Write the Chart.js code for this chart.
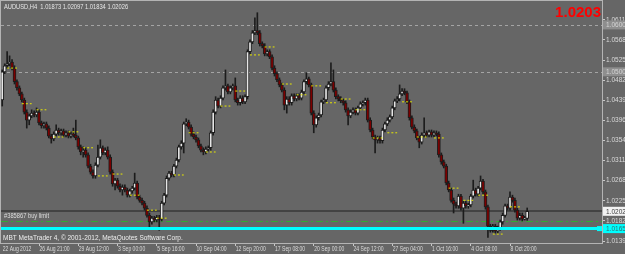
<!DOCTYPE html>
<html>
<head>
<meta charset="utf-8">
<script src="https://cdn.jsdelivr.net/npm/chart.js@4.4.0/dist/chart.umd.min.js"></script>
<style>
  html, body { margin: 0; padding: 0; background: #666666; }
  #chart { display: block; }
</style>
</head>
<body>
<canvas id="chart" width="625" height="254"></canvas>
<script>
const symbolTitle = 'AUDUSD,H4  1.01873 1.02097 1.01834 1.02026';
const bigPrice = '1.0203';
const copyright = 'MBT MetaTrader 4, \u00A9 2001-2012, MetaQuotes Software Corp.';
const orderLabel = '#385867 buy limit';

// H4 bar slots on the time axis (last ~30 are the empty chart shift)
const slotCount = 245;
const timeTickIdx = [0, 15, 31, 47, 63, 79, 95, 111, 127, 143, 159, 175, 191, 207];
const timeTickText = ['22 Aug 2012', '26 Aug 21:00', '29 Aug 12:00', '3 Sep 00:00', '5 Sep 16:00',
  '10 Sep 04:00', '12 Sep 20:00', '17 Sep 08:00', '20 Sep 00:00', '24 Sep 12:00',
  '27 Sep 04:00', '1 Oct 16:00', '4 Oct 08:00', '8 Oct 20:00'];
const priceTicks = [1.06110, 1.05680, 1.05250, 1.04820, 1.04390, 1.03960, 1.03540,
  1.03110, 1.02680, 1.02250, 1.01820, 1.01390];

const opens = [
  1.0440, 1.0500, 1.0513, 1.0517, 1.0521, 1.0508, 1.0479, 1.0466, 1.0453, 1.0440,
  1.0414, 1.0397, 1.0406, 1.0412, 1.0408, 1.0414, 1.0391, 1.0385, 1.0389, 1.0380,
  1.0363, 1.0357, 1.0367, 1.0376, 1.0370, 1.0374, 1.0365, 1.0370, 1.0363, 1.0367,
  1.0365, 1.0359, 1.0340, 1.0329, 1.0333, 1.0323, 1.0299, 1.0286, 1.0278, 1.0301,
  1.0318, 1.0338, 1.0327, 1.0333, 1.0318, 1.0286, 1.0261, 1.0269, 1.0256, 1.0248,
  1.0254, 1.0248, 1.0237, 1.0246, 1.0252, 1.0263, 1.0233, 1.0226, 1.0220, 1.0209,
  1.0194, 1.0180, 1.0188, 1.0184, 1.0190, 1.0186, 1.0220, 1.0237, 1.0273, 1.0284,
  1.0280, 1.0299, 1.0312, 1.0340, 1.0348, 1.0389, 1.0393, 1.0382, 1.0367, 1.0361,
  1.0355, 1.0342, 1.0333, 1.0329, 1.0335, 1.0338, 1.0370, 1.0414, 1.0440, 1.0427,
  1.0444, 1.0466, 1.0470, 1.0457, 1.0466, 1.0470, 1.0440, 1.0434, 1.0444, 1.0436,
  1.0447, 1.0543, 1.0564, 1.0583, 1.0588, 1.0583, 1.0560, 1.0555, 1.0538, 1.0543,
  1.0532, 1.0508, 1.0496, 1.0483, 1.0472, 1.0461, 1.0429, 1.0442, 1.0434, 1.0449,
  1.0442, 1.0449, 1.0444, 1.0457, 1.0479, 1.0485, 1.0472, 1.0412, 1.0387, 1.0402,
  1.0408, 1.0436, 1.0440, 1.0466, 1.0474, 1.0479, 1.0461, 1.0447, 1.0442, 1.0438,
  1.0434, 1.0419, 1.0406, 1.0414, 1.0419, 1.0412, 1.0423, 1.0432, 1.0434, 1.0440,
  1.0397, 1.0376, 1.0361, 1.0355, 1.0359, 1.0353, 1.0376, 1.0389, 1.0397, 1.0404,
  1.0423, 1.0438, 1.0442, 1.0453, 1.0459, 1.0455, 1.0436, 1.0402, 1.0382, 1.0374,
  1.0359, 1.0350, 1.0365, 1.0370, 1.0365, 1.0372, 1.0365, 1.0370, 1.0367, 1.0323,
  1.0308, 1.0299, 1.0263, 1.0248, 1.0226, 1.0218, 1.0214, 1.0235, 1.0209, 1.0220,
  1.0214, 1.0216, 1.0235, 1.0248, 1.0239, 1.0252, 1.0267, 1.0244, 1.0212, 1.0171,
  1.0162, 1.0171, 1.0160, 1.0167, 1.0180, 1.0194, 1.0214, 1.0209, 1.0233, 1.0226,
  1.0205, 1.0188, 1.0194, 1.0186, 1.01873
];
const highs = [
  1.0504, 1.0517, 1.0543, 1.0534, 1.0526, 1.0513, 1.0483, 1.0470, 1.0457, 1.0444,
  1.0419, 1.0410, 1.0419, 1.0417, 1.0423, 1.0419, 1.0395, 1.0393, 1.0393, 1.0385,
  1.0367, 1.0372, 1.0387, 1.0380, 1.0378, 1.0378, 1.0374, 1.0374, 1.0372, 1.0380,
  1.0397, 1.0363, 1.0344, 1.0340, 1.0338, 1.0327, 1.0303, 1.0291, 1.0306, 1.0344,
  1.0355, 1.0342, 1.0338, 1.0340, 1.0323, 1.0291, 1.0273, 1.0273, 1.0261, 1.0259,
  1.0259, 1.0252, 1.0250, 1.0256, 1.0284, 1.0267, 1.0237, 1.0231, 1.0224, 1.0214,
  1.0199, 1.0192, 1.0192, 1.0194, 1.0194, 1.0224, 1.0241, 1.0278, 1.0288, 1.0288,
  1.0303, 1.0316, 1.0344, 1.0353, 1.0393, 1.0400, 1.0397, 1.0387, 1.0372, 1.0365,
  1.0359, 1.0346, 1.0338, 1.0340, 1.0342, 1.0374, 1.0419, 1.0447, 1.0444, 1.0449,
  1.0470, 1.0504, 1.0474, 1.0470, 1.0474, 1.0487, 1.0444, 1.0449, 1.0449, 1.0451,
  1.0547, 1.0568, 1.0588, 1.0615, 1.0626, 1.0588, 1.0564, 1.0560, 1.0547, 1.0547,
  1.0536, 1.0513, 1.0500, 1.0487, 1.0476, 1.0466, 1.0447, 1.0447, 1.0453, 1.0453,
  1.0453, 1.0453, 1.0461, 1.0483, 1.0498, 1.0489, 1.0476, 1.0417, 1.0406, 1.0412,
  1.0440, 1.0444, 1.0470, 1.0479, 1.0519, 1.0504, 1.0466, 1.0451, 1.0447, 1.0442,
  1.0438, 1.0423, 1.0419, 1.0423, 1.0423, 1.0427, 1.0436, 1.0438, 1.0444, 1.0444,
  1.0402, 1.0380, 1.0365, 1.0363, 1.0363, 1.0380, 1.0393, 1.0402, 1.0408, 1.0427,
  1.0442, 1.0447, 1.0472, 1.0464, 1.0464, 1.0459, 1.0440, 1.0406, 1.0387, 1.0378,
  1.0363, 1.0370, 1.0402, 1.0374, 1.0376, 1.0376, 1.0374, 1.0374, 1.0372, 1.0327,
  1.0312, 1.0303, 1.0267, 1.0252, 1.0231, 1.0222, 1.0239, 1.0239, 1.0224, 1.0224,
  1.0220, 1.0239, 1.0269, 1.0252, 1.0256, 1.0278, 1.0271, 1.0248, 1.0216, 1.0175,
  1.0175, 1.0175, 1.0171, 1.0184, 1.0199, 1.0218, 1.0218, 1.0244, 1.0237, 1.0231,
  1.0209, 1.0199, 1.0199, 1.0192, 1.02097
];
const lows = [
  1.0427, 1.0496, 1.0508, 1.0513, 1.0504, 1.0474, 1.0461, 1.0449, 1.0436, 1.0410,
  1.0380, 1.0387, 1.0402, 1.0404, 1.0404, 1.0387, 1.0380, 1.0380, 1.0376, 1.0359,
  1.0348, 1.0353, 1.0363, 1.0365, 1.0365, 1.0361, 1.0361, 1.0359, 1.0359, 1.0361,
  1.0355, 1.0335, 1.0323, 1.0318, 1.0318, 1.0295, 1.0282, 1.0273, 1.0273, 1.0297,
  1.0314, 1.0323, 1.0323, 1.0314, 1.0282, 1.0256, 1.0248, 1.0252, 1.0244, 1.0237,
  1.0244, 1.0233, 1.0233, 1.0241, 1.0248, 1.0229, 1.0222, 1.0216, 1.0205, 1.0190,
  1.0169, 1.0175, 1.0180, 1.0180, 1.0162, 1.0182, 1.0216, 1.0233, 1.0269, 1.0276,
  1.0276, 1.0295, 1.0308, 1.0335, 1.0327, 1.0385, 1.0378, 1.0363, 1.0357, 1.0350,
  1.0338, 1.0329, 1.0323, 1.0325, 1.0331, 1.0333, 1.0365, 1.0410, 1.0423, 1.0423,
  1.0440, 1.0461, 1.0453, 1.0453, 1.0461, 1.0436, 1.0429, 1.0429, 1.0432, 1.0432,
  1.0442, 1.0538, 1.0560, 1.0579, 1.0579, 1.0555, 1.0551, 1.0534, 1.0534, 1.0528,
  1.0504, 1.0491, 1.0479, 1.0468, 1.0457, 1.0419, 1.0412, 1.0429, 1.0429, 1.0438,
  1.0438, 1.0440, 1.0440, 1.0453, 1.0474, 1.0468, 1.0408, 1.0370, 1.0382, 1.0397,
  1.0404, 1.0432, 1.0436, 1.0461, 1.0470, 1.0457, 1.0442, 1.0438, 1.0434, 1.0429,
  1.0414, 1.0387, 1.0402, 1.0410, 1.0408, 1.0408, 1.0419, 1.0427, 1.0429, 1.0393,
  1.0372, 1.0357, 1.0327, 1.0348, 1.0348, 1.0348, 1.0372, 1.0385, 1.0393, 1.0400,
  1.0419, 1.0434, 1.0438, 1.0449, 1.0451, 1.0432, 1.0397, 1.0378, 1.0370, 1.0355,
  1.0338, 1.0346, 1.0361, 1.0361, 1.0361, 1.0361, 1.0361, 1.0363, 1.0318, 1.0303,
  1.0295, 1.0259, 1.0244, 1.0222, 1.0199, 1.0209, 1.0209, 1.0205, 1.0177, 1.0209,
  1.0209, 1.0212, 1.0231, 1.0235, 1.0235, 1.0248, 1.0239, 1.0207, 1.0147, 1.0158,
  1.0158, 1.0156, 1.0156, 1.0162, 1.0175, 1.0190, 1.0205, 1.0205, 1.0222, 1.0201,
  1.0184, 1.0184, 1.0182, 1.0184, 1.01834
];
const closes = [
  1.0500, 1.0513, 1.0517, 1.0521, 1.0508, 1.0479, 1.0466, 1.0453, 1.0440, 1.0414,
  1.0397, 1.0406, 1.0412, 1.0408, 1.0414, 1.0391, 1.0385, 1.0389, 1.0380, 1.0363,
  1.0357, 1.0367, 1.0376, 1.0370, 1.0374, 1.0365, 1.0370, 1.0363, 1.0367, 1.0365,
  1.0359, 1.0340, 1.0329, 1.0333, 1.0323, 1.0299, 1.0286, 1.0278, 1.0301, 1.0318,
  1.0338, 1.0327, 1.0333, 1.0318, 1.0286, 1.0261, 1.0269, 1.0256, 1.0248, 1.0254,
  1.0248, 1.0237, 1.0246, 1.0252, 1.0263, 1.0233, 1.0226, 1.0220, 1.0209, 1.0194,
  1.0180, 1.0188, 1.0184, 1.0190, 1.0186, 1.0220, 1.0237, 1.0273, 1.0284, 1.0280,
  1.0299, 1.0312, 1.0340, 1.0348, 1.0389, 1.0393, 1.0382, 1.0367, 1.0361, 1.0355,
  1.0342, 1.0333, 1.0329, 1.0335, 1.0338, 1.0370, 1.0414, 1.0440, 1.0427, 1.0444,
  1.0466, 1.0470, 1.0457, 1.0466, 1.0470, 1.0440, 1.0434, 1.0444, 1.0436, 1.0447,
  1.0543, 1.0564, 1.0583, 1.0588, 1.0583, 1.0560, 1.0555, 1.0538, 1.0543, 1.0532,
  1.0508, 1.0496, 1.0483, 1.0472, 1.0461, 1.0429, 1.0442, 1.0434, 1.0449, 1.0442,
  1.0449, 1.0444, 1.0457, 1.0479, 1.0485, 1.0472, 1.0412, 1.0387, 1.0402, 1.0408,
  1.0436, 1.0440, 1.0466, 1.0474, 1.0479, 1.0461, 1.0447, 1.0442, 1.0438, 1.0434,
  1.0419, 1.0406, 1.0414, 1.0419, 1.0412, 1.0423, 1.0432, 1.0434, 1.0440, 1.0397,
  1.0376, 1.0361, 1.0355, 1.0359, 1.0353, 1.0376, 1.0389, 1.0397, 1.0404, 1.0423,
  1.0438, 1.0442, 1.0453, 1.0459, 1.0455, 1.0436, 1.0402, 1.0382, 1.0374, 1.0359,
  1.0350, 1.0365, 1.0370, 1.0365, 1.0372, 1.0365, 1.0370, 1.0367, 1.0323, 1.0308,
  1.0299, 1.0263, 1.0248, 1.0226, 1.0218, 1.0214, 1.0235, 1.0209, 1.0220, 1.0214,
  1.0216, 1.0235, 1.0248, 1.0239, 1.0252, 1.0267, 1.0244, 1.0212, 1.0171, 1.0162,
  1.0171, 1.0160, 1.0167, 1.0180, 1.0194, 1.0214, 1.0209, 1.0233, 1.0226, 1.0205,
  1.0188, 1.0194, 1.0186, 1.0188, 1.02026
];

// short yellow level marks (bar where each starts, price)
const dayOpenIdx = [2, 8, 14, 21, 27, 33, 39, 45, 52, 59, 63, 70, 76, 83, 89, 95, 101,
  107, 114, 120, 126, 132, 138, 144, 151, 157, 163, 169, 176, 182, 188, 194, 200, 207];
const dayOpenPrice = [1.0508, 1.0432, 1.0419, 1.0361, 1.0372, 1.0338, 1.0278, 1.0282,
  1.0237, 1.0205, 1.0188, 1.0280, 1.0370, 1.0329, 1.0427, 1.0459, 1.0536, 1.0553,
  1.0474, 1.0451, 1.0470, 1.0434, 1.0442, 1.0419, 1.0359, 1.0370, 1.0436, 1.0361,
  1.0359, 1.0252, 1.0226, 1.0237, 1.0154, 1.0212];
const dayOpenLen = 4;

const roundLevels = [1.06000, 1.05000];
const bidLevel = 1.02026;
const targetLevel = 1.01820;
const orderLevel = 1.01657;

const labels = Array.from({length: slotCount}, (_, i) => String(i));
const bodyColors = opens.map((o, i) => closes[i] >= o ? '#e6e6e6' : '#7c0000');

const dashPoints = [];
dayOpenIdx.forEach((start, k) => {
    dashPoints.push({x: String(start), y: dayOpenPrice[k]});
    dashPoints.push({x: String(start + dayOpenLen), y: dayOpenPrice[k]});
    dashPoints.push({x: String(start + dayOpenLen), y: null});
});

const FONT = '"Liberation Sans", Arial, sans-serif';

function hline(ctx, area, py) {
    ctx.beginPath();
    ctx.moveTo(area.left, py);
    ctx.lineTo(area.right, py);
    ctx.stroke();
}

// MT4 uses Tahoma; squeeze Liberation Sans sideways to get the same width
function narrowText(ctx, text, x, y, sx) {
    ctx.save();
    ctx.translate(x, y);
    ctx.scale(sx, 1);
    ctx.fillText(text, 0, 0);
    ctx.restore();
}

function axisBox(ctx, area, py, text, fill, color) {
    ctx.fillStyle = fill;
    ctx.fillRect(area.right + 1, py - 4.5, 30, 9);
    ctx.fillStyle = color;
    ctx.font = '6.5px ' + FONT;
    ctx.textAlign = 'left';
    ctx.textBaseline = 'middle';
    ctx.fillText(text, area.right + 4, py + 0.5);
}

const overlay = {
    id: 'overlay',
    beforeDraw(chart) {
        const ctx = chart.ctx;
        ctx.save();
        ctx.fillStyle = '#666666';
        ctx.fillRect(0, 0, chart.width, chart.height);
        ctx.restore();
    },
    beforeDatasetsDraw(chart) {
        const {ctx, chartArea: a, scales: {y}} = chart;
        ctx.save();
        ctx.lineWidth = 1;
        ctx.strokeStyle = '#a4a4a4';
        ctx.setLineDash([3, 3]);
        roundLevels.forEach(v => hline(ctx, a, Math.round(y.getPixelForValue(v)) + 0.5));
        ctx.setLineDash([]);
        ctx.strokeStyle = '#383838';
        ctx.lineWidth = 1.5;
        hline(ctx, a, Math.round(y.getPixelForValue(bidLevel)));
        ctx.lineWidth = 1;
        ctx.strokeStyle = '#34a834';
        ctx.setLineDash([7, 3, 2, 3]);
        hline(ctx, a, Math.round(y.getPixelForValue(targetLevel)) + 0.5);
        ctx.restore();
    },
    afterDatasetsDraw(chart) {
        const {ctx, chartArea: a, scales: {x, y}} = chart;
        ctx.save();
        const oy = y.getPixelForValue(orderLevel);
        ctx.strokeStyle = '#00ffff';
        ctx.lineWidth = 3;
        hline(ctx, a, oy);
        ctx.fillStyle = '#00ffff';
        ctx.fillRect(a.right - 5, oy - 2.5, 5, 5);

        ctx.textBaseline = 'middle';
        ctx.textAlign = 'left';
        ctx.font = '7px ' + FONT;
        ctx.fillStyle = '#e6e6e6';
        narrowText(ctx, symbolTitle, 4, 7, 0.82);
        ctx.fillStyle = '#dcdcdc';
        narrowText(ctx, orderLabel, 4, 216, 0.82);
        ctx.font = '6.5px ' + FONT;
        ctx.fillStyle = '#eeeeee';
        ctx.fillText(copyright, 3, 238);

        // time axis labels, left-aligned on their tick
        ctx.font = '7px ' + FONT;
        ctx.fillStyle = '#dadada';
        timeTickIdx.forEach((idx, k) => {
            narrowText(ctx, timeTickText[k], Math.max(x.getPixelForValue(idx), 2) + 0.5, 249.5, 0.72);
        });

        ctx.textAlign = 'right';
        ctx.font = 'bold 15px ' + FONT;
        ctx.fillStyle = '#ff0000';
        ctx.fillText(bigPrice, 601, 13);
        ctx.restore();
    },
    afterDraw(chart) {
        const {ctx, chartArea: a, scales: {y}} = chart;
        ctx.save();
        ctx.strokeStyle = '#b4b4b4';
        ctx.lineWidth = 1;
        ctx.strokeRect(a.left - 0.5, a.top - 0.5, a.right - a.left + 1, a.bottom - a.top + 1);
        roundLevels.forEach(v => axisBox(ctx, a, y.getPixelForValue(v), v.toFixed(5), '#8e8e8e', '#d4d4d4'));
        axisBox(ctx, a, y.getPixelForValue(bidLevel), bidLevel.toFixed(5), '#f2f2f2', '#3c3c3c');
        axisBox(ctx, a, y.getPixelForValue(orderLevel), orderLevel.toFixed(5), '#00ffff', '#2d7070');
        ctx.restore();
    }
};

new Chart(document.getElementById('chart'), {
    type: 'bar',
    data: {
        labels: labels,
        datasets: [
            {
                type: 'line',
                label: 'day open',
                data: dashPoints,
                borderColor: '#e8e800',
                borderWidth: 1,
                borderDash: [2, 2],
                pointRadius: 0,
                spanGaps: false,
                fill: false,
                order: 0
            },
            {
                label: 'body',
                data: opens.map((o, i) => [o, closes[i]]),
                backgroundColor: bodyColors,
                borderColor: '#1c1c1c',
                borderWidth: 1,
                borderSkipped: false,
                barThickness: 3,
                minBarLength: 1,
                grouped: false,
                order: 1
            },
            {
                label: 'wick',
                data: highs.map((h, i) => [lows[i], h]),
                backgroundColor: '#1c1c1c',
                barThickness: 1,
                grouped: false,
                order: 2
            }
        ]
    },
    options: {
        responsive: false,
        animation: false,
        devicePixelRatio: 1,
        layout: { padding: { left: 1, top: 1, right: 0, bottom: 0 } },
        plugins: { legend: { display: false }, tooltip: { enabled: false } },
        scales: {
            x: {
                type: 'category',
                offset: true,
                border: { display: false },
                grid: { display: true, offset: false, drawOnChartArea: false, drawTicks: true, tickLength: 3, color: '#c8c8c8' },
                ticks: { display: false, autoSkip: false, maxRotation: 0 },
                afterBuildTicks: s => { s.ticks = timeTickIdx.slice(1).map(v => ({value: v})); },
                afterFit: s => { s.height = 11; s.paddingLeft = 0; s.paddingRight = 0; }
            },
            y: {
                position: 'right',
                min: 1.0135,
                max: 1.0651,
                bounds: 'data',
                border: { display: false },
                grid: { display: true, drawOnChartArea: false, drawTicks: true, tickLength: 3, color: '#c8c8c8' },
                ticks: {
                    padding: 1, color: '#dadada', font: { family: 'Liberation Sans', size: 6.5 },
                    callback: v => v.toFixed(5)
                },
                afterBuildTicks: s => { s.ticks = priceTicks.map(v => ({value: v})); },
                afterFit: s => { s.width = 23; s.paddingTop = 0; s.paddingBottom = 0; }
            }
        }
    },
    plugins: [overlay]
});
</script>
</body>
</html>
